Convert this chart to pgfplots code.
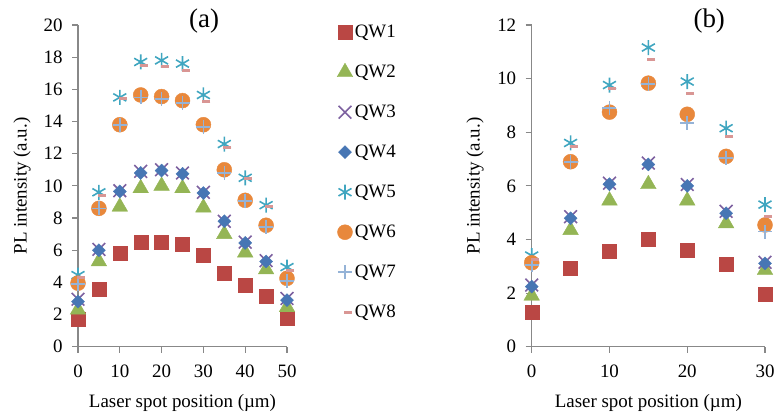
\documentclass[border=0pt]{standalone}
\usepackage{fontspec}
\setmainfont{Liberation Serif}
\usepackage{pgfplots}
\pgfplotsset{compat=1.18}
\definecolor{axgray}{HTML}{888888}
\definecolor{cQWa}{HTML}{BA4744}
\definecolor{cQWb}{HTML}{94B555}
\definecolor{cQWc}{HTML}{7D61A0}
\definecolor{cQWd}{HTML}{4776B4}
\definecolor{cQWe}{HTML}{40A6C0}
\definecolor{cQWf}{HTML}{E8883C}
\definecolor{cQWg}{HTML}{95B3D7}
\definecolor{cQWh}{HTML}{D99694}
\pgfplotsset{
  common/.style={
    scale only axis, clip=false,
    axis lines*=left,
    axis line style={draw=axgray, line width=1.3bp},
    tick style={draw=axgray, line width=1.1bp},
    major tick length=6bp, tick align=outside,
    /pgf/number format/assume math mode=true,
    tick label style={font=\fontsize{19}{22}\selectfont},
    xticklabel style={yshift=-9bp},
    yticklabel style={xshift=-6bp},
    title style={font=\fontsize{27}{31}\selectfont, anchor=center},
  },
  s1/.style={only marks, mark=square*, mark size=7bp, color=cQWa},
  s2/.style={only marks, mark=triangle*, mark size=9bp, color=cQWb},
  s3/.style={only marks, mark=x, mark size=9bp, color=cQWc, mark options={line width=1.6bp}},
  s4/.style={only marks, mark=square*, mark size=4.6bp, color=cQWd, mark options={rotate=45}},
  s5/.style={only marks, mark=asterisk, mark size=7.5bp, color=cQWe, mark options={line width=1.6bp}},
  s6/.style={only marks, mark=*, mark size=7.5bp, color=cQWf},
  s7/.style={only marks, mark=+, mark size=7bp, color=cQWg, mark options={line width=1.6bp}},
  s8/.style={only marks, mark=-, mark size=4bp, color=cQWh, mark options={line width=3bp, xshift=3bp}},
}
\begin{document}
\begin{tikzpicture}[x=1bp,y=1bp]
\useasboundingbox (0,0) rectangle (775,417);
\begin{axis}[common,
  at={(78bp,70.3bp)}, anchor=south west,
  width=209bp, height=321.7bp,
  xmin=0, xmax=50, ymin=0, ymax=20,
  xtick={0,10,...,50}, ytick={0,2,...,20},
  xlabel={Laser spot position (µm)},
  ylabel={PL intensity (a.u.)},
  every axis x label/.style={at={(axis description cs:0.5,-0.175)}, anchor=center, font=\fontsize{19}{22}\selectfont},
  every axis y label/.style={at={(axis description cs:-0.268,0.5)}, anchor=center, rotate=90, font=\fontsize{19}{22}\selectfont},
  title={(a)}, title style={at={(axis description cs:0.603,0.994)}},
  legend style={draw=none, fill=none, at={(1,1)}, anchor=north west, xshift=50bp, yshift=4bp,
    font=\fontsize{19}{22}\selectfont, inner sep=0pt, row sep=18bp,
    nodes={inner sep=2bp, text height=14bp, text depth=4bp}},
  legend cell align=left,
  legend image code/.code={\draw[mark repeat=2,mark phase=2,#1] plot coordinates {(0bp,0bp)(7bp,0bp)(14bp,0bp)};},
]
\addplot[s1] coordinates {(0,1.7)(5,3.6)(10,5.8)(15,6.5)(20,6.5)(25,6.4)(30,5.7)(35,4.6)(40,3.85)(45,3.15)(50,1.75)};
\addplot[s2] coordinates {(0,2.3)(5,5.3)(10,8.7)(15,9.85)(20,10.0)(25,9.85)(30,8.65)(35,7.0)(40,5.85)(45,4.8)(50,2.45)};
\addplot[s3] coordinates {(0,2.95)(5,6.05)(10,9.7)(15,10.9)(20,11.0)(25,10.8)(30,9.6)(35,7.8)(40,6.5)(45,5.35)(50,3.0)};
\addplot[s4] coordinates {(0,2.8)(5,6.0)(10,9.65)(15,10.8)(20,10.95)(25,10.75)(30,9.55)(35,7.8)(40,6.45)(45,5.3)(50,2.9)};
\addplot[s5] coordinates {(0,4.45)(5,9.6)(10,15.5)(15,17.7)(20,17.8)(25,17.6)(30,15.65)(35,12.6)(40,10.5)(45,8.8)(50,4.95)};
\addplot[s6] coordinates {(0,3.95)(5,8.6)(10,13.8)(15,15.65)(20,15.55)(25,15.3)(30,13.8)(35,11.0)(40,9.1)(45,7.55)(50,4.25)};
\addplot[s7] coordinates {(0,3.9)(5,8.6)(10,13.8)(15,15.5)(20,15.4)(25,15.15)(30,13.65)(35,10.8)(40,9.05)(45,7.45)(50,4.1)};
\addplot[s8] coordinates {(0,4.3)(5,9.43)(10,15.4)(15,17.5)(20,17.45)(25,17.15)(30,15.25)(35,12.4)(40,10.45)(45,8.7)(50,4.75)};
\legend{QW1,QW2,QW3,QW4,QW5,QW6,QW7,QW8}
\end{axis}
\begin{axis}[common,
  at={(531.7bp,70.3bp)}, anchor=south west,
  width=233.3bp, height=321.7bp,
  xmin=0, xmax=30, ymin=0, ymax=12,
  xtick={0,10,...,30}, ytick={0,2,...,12},
  xlabel={Laser spot position (µm)},
  ylabel={PL intensity (a.u.)},
  every axis x label/.style={at={(axis description cs:0.5,-0.175)}, anchor=center, font=\fontsize{19}{22}\selectfont},
  every axis y label/.style={at={(axis description cs:-0.243,0.5)}, anchor=center, rotate=90, font=\fontsize{19}{22}\selectfont},
  title={(b)}, title style={at={(axis description cs:0.761,0.994)}},
]
\addplot[s1] coordinates {(0,1.3)(5,2.92)(10,3.57)(15,4.0)(20,3.6)(25,3.08)(30,1.95)};
\addplot[s2] coordinates {(0,1.9)(5,4.35)(10,5.45)(15,6.06)(20,5.45)(25,4.6)(30,2.86)};
\addplot[s3] coordinates {(0,2.3)(5,4.85)(10,6.1)(15,6.85)(20,6.05)(25,5.05)(30,3.15)};
\addplot[s4] coordinates {(0,2.24)(5,4.79)(10,6.06)(15,6.8)(20,6.0)(25,4.98)(30,3.11)};
\addplot[s5] coordinates {(0,3.4)(5,7.6)(10,9.76)(15,11.16)(20,9.89)(25,8.15)(30,5.3)};
\addplot[s6] coordinates {(0,3.13)(5,6.9)(10,8.75)(15,9.83)(20,8.67)(25,7.1)(30,4.54)};
\addplot[s7] coordinates {(0,3.05)(5,6.9)(10,8.9)(15,9.8)(20,8.34)(25,7.03)(30,4.29)};
\addplot[s8] coordinates {(0,3.24)(5,7.46)(10,9.64)(15,10.73)(20,9.45)(25,7.83)(30,4.85)};
\end{axis}
\end{tikzpicture}
\end{document}
